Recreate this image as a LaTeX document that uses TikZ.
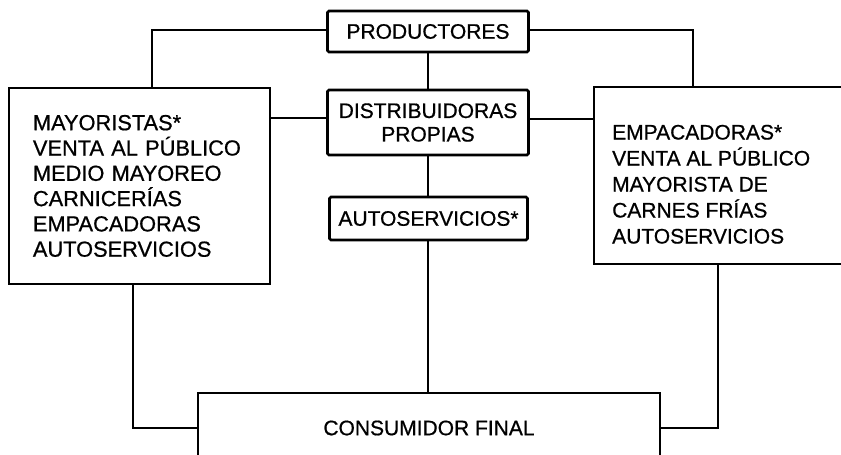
\documentclass[tikz,border=0pt]{standalone}
\usepackage{fontspec}
\setmainfont[FakeBold=0.7]{Liberation Sans}
\begin{document}
\begin{tikzpicture}[x=1pt,y=-1pt,
  smallbox/.style={draw, line width=2.8pt, rounded corners=1.5pt, inner sep=0pt, align=center,
    font=\fontsize{21}{23.5}\selectfont},
  bigbox/.style={draw, line width=1.9pt, inner sep=0pt, font=\fontsize{21}{25.5}\selectfont},
  bigtext/.style={inner sep=0pt, align=left, font=\fontsize{21}{26}\selectfont},
  conn/.style={line width=2pt},
  thickconn/.style={line width=2.8pt}]
\useasboundingbox (0,0) rectangle (841,455);
\clip (0,0) rectangle (841,455);
% central boxes
\node[smallbox, minimum width=201pt, minimum height=41pt] (prod) at (428,31.5) {PRODUCTORES};
\node[smallbox, minimum width=201pt, minimum height=65pt] (dist) at (428,122.5) {DISTRIBUIDORAS\\PROPIAS};
\node[smallbox, minimum width=198pt, minimum height=43pt] (auto) at (428.5,218.5) {AUTOSERVICIOS*};
% side boxes
\node[bigbox, anchor=north west, minimum width=261pt, minimum height=196pt,
      text width=213pt, inner xsep=24pt, align=left, font=\fontsize{21.8}{25.3}\selectfont] (left) at (8,87)
  {MAYORISTAS*\\VENTA AL PÚBLICO\\MEDIO MAYOREO\\CARNICERÍAS\\EMPACADORAS\\AUTOSERVICIOS};
\node[bigbox, anchor=north west, minimum width=280pt, minimum height=177pt] (right) at (593,86) {};
\node[bigtext, anchor=base west] (righttxt) at (612,243.5)
  {EMPACADORAS*\\VENTA AL PÚBLICO\\MAYORISTA DE\\CARNES FRÍAS\\AUTOSERVICIOS};
% bottom box
\node[bigbox, minimum width=462pt, minimum height=70pt] (cons) at (429,428) {CONSUMIDOR FINAL};
% connectors
\coordinate (pl) at (152,30);
\coordinate (pr) at (693,30);
\draw[conn] (prod.west |- pl) -- (pl) -- (pl |- left.north);
\draw[conn] (prod.east |- pr) -- (pr) -- (pr |- right.north);
\draw[thickconn] (prod.south) -- (dist.north);
\draw[thickconn] (dist.south) -- (dist.south |- auto.north);
\draw[conn] ([yshift=5pt]dist.west) -- ([yshift=5pt]dist.west -| left.east);
\draw[conn] ([yshift=4pt]dist.east) -- ([yshift=4pt]dist.east -| right.west);
\draw[conn] (dist.south |- auto.south) -- (dist.south |- cons.north);
\coordinate (bl) at (133,428);
\coordinate (br) at (718,428);
\draw[conn] (bl |- left.south) -- (bl) -- (cons.west);
\draw[conn] (br |- right.south) -- (br) -- (cons.east);
\end{tikzpicture}
\end{document}
